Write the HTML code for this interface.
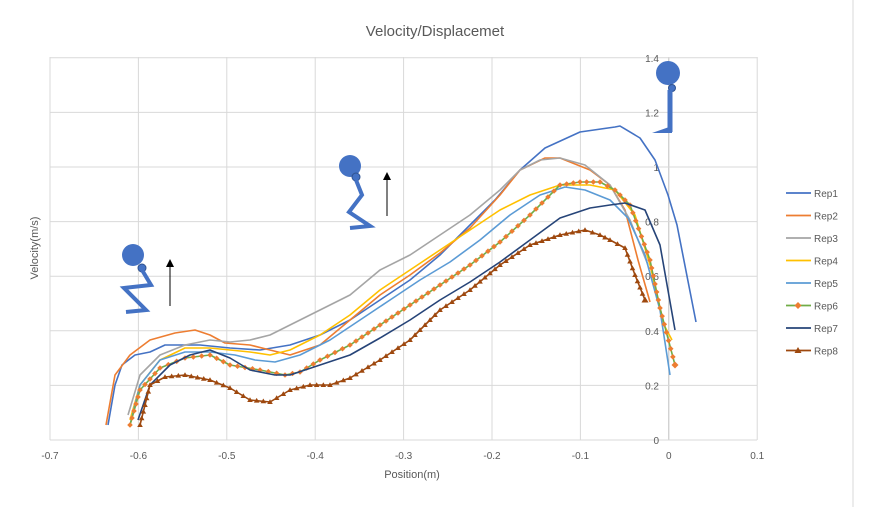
<!DOCTYPE html>
<html><head><meta charset="utf-8"><style>
body{margin:0;background:#fff;}
svg{display:block;font-family:"Liberation Sans",sans-serif;}
</style></head><body>
<svg id="s" width="869" height="507" viewBox="0 0 869 507">
<rect x="0" y="0" width="869" height="507" fill="#fff"/>
<line x1="853" y1="0" x2="853" y2="507" stroke="#d9d9d9"/>
<text x="435" y="36" font-size="15" fill="#595959" text-anchor="middle">Velocity/Displacemet</text>
<g id="grid" stroke="#d9d9d9" stroke-width="1"></g>
<g id="lbl" font-size="10" fill="#595959"></g>
<text x="412" y="478" font-size="11" fill="#595959" text-anchor="middle">Position(m)</text>
<text transform="translate(38,248) rotate(-90)" font-size="11" fill="#595959" text-anchor="middle">Velocity(m/s)</text>
<g id="series" fill="none" stroke-width="1.6" stroke-linejoin="round"></g>
<g id="leg" font-size="10" fill="#595959"></g>
<g fill="#4472C4" stroke="#4472C4">
<circle cx="133" cy="255" r="11" stroke="none"/><circle cx="142" cy="268" r="4" stroke="#2f528f"/>
<polyline points="142,270 151,285 124,288 146,310 126,312" fill="none" stroke-width="4"/>
<circle cx="350" cy="166" r="11" stroke="none"/><circle cx="356" cy="177" r="4" stroke="#2f528f"/>
<polyline points="356,180 362,195 349,212 370,226 350,228" fill="none" stroke-width="4"/>
<circle cx="668" cy="73" r="12" stroke="none"/><circle cx="672" cy="88" r="3.5" stroke="#2f528f"/>
<line x1="670" y1="90" x2="670" y2="132" stroke-width="5"/>
<polygon points="652,133 672,133 672,126" stroke="none"/>
</g>
<g stroke="#000" fill="#000">
<line x1="170" y1="265" x2="170" y2="306"/><polygon points="166,267 174,267 170,259" stroke="none"/>
<line x1="387" y1="178" x2="387" y2="216"/><polygon points="383,180 391,180 387,172" stroke="none"/>
</g>
</svg>
<script>
const NS="http://www.w3.org/2000/svg";
function el(t,a,p,txt){const e=document.createElementNS(NS,t);for(const k in a)e.setAttribute(k,a[k]);if(txt!=null)e.textContent=txt;p.appendChild(e);return e;}
const g=document.getElementById('grid'),l=document.getElementById('lbl');
const X0=50,DX=88.4,Y0=440,DY=54.6;
for(let i=0;i<=8;i++){const x=X0+i*DX;el('line',{x1:x,y1:57,x2:x,y2:440,stroke:i==7?'#bfbfbf':'#d9d9d9'},g);
 const v=(-0.7+i*0.1);let s=Math.abs(v)<1e-9?'0':(Math.round(v*10)/10).toString();el('text',{x:x,y:459,'text-anchor':'middle'},l,s);}
for(let j=0;j<=7;j++){const y=Y0-j*DY;el('line',{x1:X0,y1:y,x2:757,y2:y},g);
 let s=(Math.round(j*2)/10).toString();if(j==5)s='1';el('text',{x:659,y:y+4,'text-anchor':'end'},l,s);}
const S=[
["#4472C4","108,425 115,385 122,365 135,355 150,352 165,345 200,345 230,348 260,350 290,345 320,335 350,320 380,300 410,280 440,255 470,225 495,200 520,170 545,148 580,132 615,127 620,126 640,138 655,160 668,195 677,225 696,322",0],
["#ED7D31","106,425 115,375 130,355 150,340 175,333 195,330 210,335 225,343 250,345 270,350 290,355 320,345 350,320 380,295 410,275 440,253 470,228 500,195 520,170 545,158 560,158 590,170 610,185 625,210 638,260 650,302",0],
["#A5A5A5","128,415 140,375 160,355 185,345 210,340 230,342 250,340 270,335 290,325 320,310 350,295 380,270 410,255 440,235 470,215 500,190 520,170 540,160 560,158 585,165 610,185 630,220 648,265",0],
["#FFC000","130,420 140,385 160,360 185,348 210,348 230,350 250,352 270,355 290,350 320,335 350,315 380,290 410,270 440,250 470,230 500,210 530,195 560,185 590,185 615,190 635,215 650,265 664,325 672,340",0],
["#5B9BD5","130,425 140,385 160,360 185,352 210,352 235,355 255,360 275,362 300,355 330,340 360,320 390,300 420,280 450,262 480,240 510,215 540,195 565,187 585,190 610,200 628,218 645,255 660,310 670,375",0],
["#70AD47","130,425 140,390 160,368 185,358 210,355 230,365 260,370 285,375 300,372 320,360 350,345 380,325 410,305 440,285 470,265 500,242 530,215 560,185 580,182 600,182 615,190 630,205 650,260 660,308 675,365",1],
["#264478","138,420 150,385 170,365 190,355 210,350 230,358 250,370 275,375 290,375 320,365 350,355 380,338 410,320 440,300 470,282 500,262 530,240 560,218 590,208 610,205 625,203 645,210 660,245 675,330",0],
["#9E480E","140,425 150,385 165,377 185,375 210,380 230,388 250,400 270,402 290,390 310,385 330,385 350,378 380,360 410,340 440,310 470,290 500,265 530,245 560,235 585,230 600,235 610,240 625,248 635,275 645,300",2]];
const sg=document.getElementById('series'),lg=document.getElementById('leg');
function marker(t,x,y,p,r){r=r||2.8;if(t==1)el('polygon',{points:`${x},${y-r} ${x+r},${y} ${x},${y+r} ${x-r},${y}`,fill:'#ED7D31',stroke:'none'},p);
 else if(t==2)el('polygon',{points:`${x},${y-r} ${x+r},${y+r*0.7} ${x-r},${y+r*0.7}`,fill:'#9E480E',stroke:'none'},p);}
S.forEach((s,i)=>{el('polyline',{points:s[1],stroke:s[0]},sg);
 if(s[2]){const pts=s[1].split(' ').map(q=>q.split(',').map(Number));
  let step=s[2]==1?8:7;
  for(let k=0;k<pts.length-1;k++){const [a,b]=pts[k],[c,d]=pts[k+1];const L=Math.hypot(c-a,d-b);const n=Math.max(1,Math.round(L/step));
   for(let m=0;m<n;m++)marker(s[2],a+(c-a)*m/n,b+(d-b)*m/n,sg);}
  const z=pts[pts.length-1];marker(s[2],z[0],z[1],sg,3.5);}
 const y=193+i*22.5;el('line',{x1:786,y1:y,x2:811,y2:y,stroke:s[0],'stroke-width':1.8},lg);
 if(s[2])marker(s[2],798,y,lg,3.5);
 el('text',{x:814,y:y+4},lg,'Rep'+(i+1));});
</script>
</body></html>
